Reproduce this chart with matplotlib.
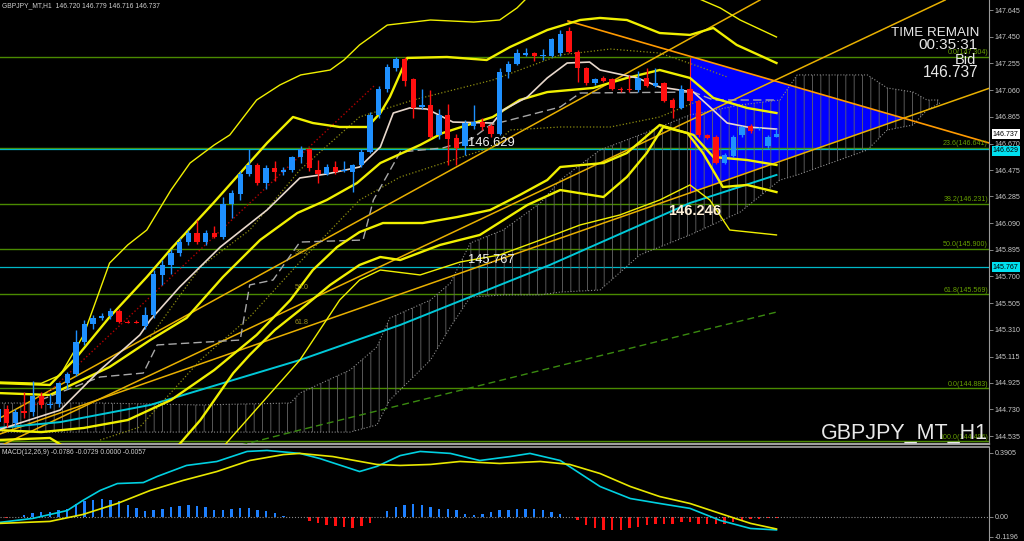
import numpy as np
import matplotlib
matplotlib.use("Agg")
import matplotlib.pyplot as plt
from matplotlib.transforms import blended_transform_factory

plt.rcParams['hatch.linewidth'] = 0.6

# ---------------- candles (H1) ----------------
opens = [144.64, 144.73, 144.63, 144.72, 144.71, 144.83, 144.76, 144.77, 144.92, 144.99,
         145.22, 145.35, 145.40, 145.41, 145.45, 145.37, 145.37, 145.34, 145.42, 145.71,
         145.78, 145.87, 145.95, 146.02, 145.95, 146.02, 145.99, 146.23, 146.30, 146.45,
         146.51, 146.38, 146.49, 146.46, 146.48, 146.57, 146.63, 146.48, 146.45, 146.50,
         146.47, 146.46, 146.51, 146.61, 146.88, 147.07, 147.22, 147.29, 147.14, 146.94,
         146.95, 146.73, 146.88, 146.71, 146.65, 146.80, 146.83, 146.80, 146.74, 147.19,
         147.25, 147.32, 147.33, 147.31, 147.31, 147.33, 147.49, 147.34, 147.22, 147.11,
         147.15, 147.14, 147.07, 147.07, 147.06, 147.15, 147.09, 147.11, 146.99, 146.93,
         147.07, 146.98, 146.73, 146.72, 146.53, 146.58, 146.73, 146.80, 146.78, 146.65, 146.720]
highs = [144.76, 144.76, 144.73, 144.86, 144.94, 144.86, 144.84, 144.93, 145.00, 145.31,
         145.38, 145.42, 145.43, 145.47, 145.46, 145.38, 145.38, 145.48, 145.75, 145.82,
         145.90, 145.98, 146.04, 146.11, 146.04, 146.07, 146.28, 146.33, 146.47, 146.63,
         146.53, 146.51, 146.54, 146.50, 146.58, 146.65, 146.64, 146.55, 146.52, 146.54,
         146.54, 146.52, 146.63, 146.90, 147.09, 147.25, 147.30, 147.30, 147.15, 147.07,
         147.06, 146.92, 146.96, 146.74, 146.84, 146.95, 146.86, 146.81, 147.22, 147.27,
         147.36, 147.37, 147.34, 147.36, 147.44, 147.50, 147.52, 147.35, 147.23, 147.15,
         147.16, 147.15, 147.08, 147.17, 147.20, 147.22, 147.22, 147.12, 147.00, 147.10,
         147.08, 146.99, 146.74, 146.73, 146.60, 146.73, 146.80, 146.81, 146.79, 146.73, 146.779]
lows = [144.60, 144.60, 144.60, 144.67, 144.68, 144.74, 144.74, 144.75, 144.88, 144.97,
        145.20, 145.32, 145.38, 145.39, 145.36, 145.36, 145.36, 145.32, 145.40, 145.64,
        145.72, 145.85, 145.93, 145.94, 145.93, 145.98, 145.97, 146.13, 146.26, 146.43,
        146.37, 146.34, 146.40, 146.44, 146.46, 146.53, 146.47, 146.38, 146.44, 146.45,
        146.46, 146.32, 146.50, 146.60, 146.86, 147.05, 147.20, 147.09, 146.86, 146.92,
        146.71, 146.70, 146.51, 146.51, 146.59, 146.78, 146.77, 146.72, 146.73, 147.15,
        147.24, 147.31, 147.27, 147.28, 147.30, 147.31, 147.33, 147.12, 147.10, 147.10,
        147.12, 147.06, 147.05, 147.05, 147.05, 147.08, 147.08, 146.97, 146.86, 146.92,
        146.97, 146.72, 146.70, 146.52, 146.52, 146.57, 146.72, 146.75, 146.77, 146.64, 146.716]
closes = [144.73, 144.63, 144.71, 144.70, 144.83, 144.76, 144.77, 144.92, 144.99, 145.22,
          145.35, 145.40, 145.41, 145.45, 145.37, 145.36, 145.36, 145.42, 145.72, 145.78,
          145.87, 145.95, 146.02, 145.95, 146.02, 145.99, 146.23, 146.31, 146.45, 146.51,
          146.38, 146.49, 146.46, 146.48, 146.57, 146.63, 146.49, 146.45, 146.50, 146.46,
          146.48, 146.51, 146.61, 146.88, 147.07, 147.23, 147.29, 147.13, 146.93, 146.95,
          146.72, 146.88, 146.70, 146.64, 146.82, 146.83, 146.79, 146.74, 147.19, 147.25,
          147.33, 147.33, 147.31, 147.32, 147.43, 147.47, 147.34, 147.22, 147.11, 147.14,
          147.13, 147.07, 147.06, 147.06, 147.15, 147.09, 147.11, 146.98, 146.93, 147.07,
          146.98, 146.73, 146.71, 146.53, 146.59, 146.72, 146.79, 146.76, 146.78, 146.72, 146.737]

# ---------------- Bollinger-type yellow bands (bar, price) ----------------
bb_up3_x = [0, 5.0, 7.2, 9.9, 12.9, 15.0, 17.2, 20.0, 22.2, 25.0, 26.8, 29.9, 32.6, 35.0, 38.4, 40.0,
            41.8, 45.0, 50.0, 55.0, 58.0, 60.0, 61.5, 69.6, 75.4, 80.0, 83.5, 85.8, 90.0]
bb_up3_y = [144.93, 144.92, 144.98, 145.273, 145.798, 145.93, 146.039, 146.331, 146.528, 146.66, 146.733,
            146.988, 147.098, 147.171, 147.207, 147.28, 147.39, 147.535, 147.572, 147.557, 147.572, 147.66,
            147.755, 147.83, 147.81, 147.755, 147.66, 147.572, 147.448]
bb_up2_x = [0, 6.0, 9.1, 12.9, 17.2, 20.2, 24.9, 28.0, 31.1, 34.1, 36.4, 39.5, 42.7, 44.2, 45.3, 47.3,
            51.9, 56.5, 59.2, 63.5, 67.3, 69.6, 72.7, 76.5, 80.0, 82.7, 85.4, 90.0]
bb_up2_y = [144.922, 144.908, 145.112, 145.404, 145.696, 145.915, 146.236, 146.455, 146.674, 146.864,
            146.82, 146.791, 146.791, 146.893, 147.01, 147.295, 147.302, 147.28, 147.375, 147.499, 147.572,
            147.587, 147.572, 147.477, 147.463, 147.514, 147.39, 147.258]
bb_up1_x = [0, 6.0, 12.9, 17.6, 21.8, 26.0, 30.3, 34.6, 38.0, 41.5, 44.2, 48.8, 51.4, 57.2, 60.3, 63.5,
            68.8, 72.7, 76.5, 80.0, 82.7, 86.6, 90.0]
bb_up1_y = [144.849, 144.835, 145.039, 145.236, 145.397, 145.696, 145.966, 146.163, 146.258, 146.382,
            146.528, 146.66, 146.747, 146.864, 146.988, 147.046, 147.076, 147.149, 147.207, 147.149,
            147.003, 146.93, 146.893]
bb_dn1_x = [0, 5.0, 9.9, 15.0, 20.0, 25.0, 29.9, 33.8, 36.4, 39.2, 41.8, 44.5, 49.1, 53.1, 56.9, 60.3,
            63.5, 65.0, 70.0, 72.7, 76.5, 80.4, 82.7, 86.6, 90.0]
bb_dn1_y = [144.579, 144.564, 144.594, 144.652, 144.798, 145.017, 145.273, 145.528, 145.747, 145.915,
            146.024, 146.09, 146.09, 146.134, 146.185, 146.294, 146.404, 146.499, 146.528, 146.601,
            146.806, 146.733, 146.572, 146.55, 146.514]
bb_dn2_x = [0, 6.0, 8.3, 14.1, 19.9, 23.4, 27.2, 29.1, 32.0, 34.9, 38.4, 41.8, 44.2, 46.5, 51.1, 55.7,
            61.2, 65.0, 70.0, 72.7, 75.0, 76.9, 79.7, 81.5, 83.8, 86.6, 90.0]
bb_dn2_y = [144.506, 144.521, 144.433, 144.36, 144.397, 144.652, 144.995, 145.127, 145.309, 145.455,
            145.638, 145.784, 145.842, 145.82, 145.93, 146.003, 146.222, 146.331, 146.28, 146.426,
            146.601, 146.791, 146.747, 146.601, 146.353, 146.368, 146.316]
bb_dn3_x = [0, 11.8, 23.4, 25.7, 30.3, 34.9, 37.2, 39.5, 41.8, 44.2, 48.8, 53.4, 58.0, 62.7, 67.3,
            71.9, 76.5, 80.0, 82.3, 84.6, 90.0]
bb_dn3_y = [144.47, 144.397, 144.36, 144.433, 144.762, 145.09, 145.309, 145.528, 145.674, 145.747,
            145.711, 145.805, 145.857, 145.966, 146.076, 146.149, 146.258, 146.368, 146.258, 146.039, 146.003]

# ---------------- other moving lines (bar, price) ----------------
beige_x = [0, 7.2, 11.8, 16.4, 17.6, 21.0, 25.7, 31.1, 34.9, 38.0, 41.8, 44.2, 45.7, 47.6, 49.6, 52.6,
           57.2, 58.4, 61.2, 63.5, 65.8, 68.4, 69.6, 73.9, 76.5, 80.4, 82.3, 84.3, 86.6, 90.0]
beige_y = [144.579, 144.725, 145.017, 145.273, 145.382, 145.623, 145.915, 146.185, 146.419, 146.448,
           146.499, 146.645, 146.893, 146.93, 146.922, 146.827, 146.82, 146.915, 147.01, 147.149, 147.258,
           147.265, 147.207, 147.149, 147.083, 147.046, 146.937, 146.82, 146.791, 146.776]
kijun_x = [4.9, 11.8, 16.8, 18.4, 28.0, 29.1, 31.8, 34.9, 42.2, 43.4, 46.5, 51.4, 54.6, 56.9, 59.2,
           65.0, 67.3, 80.4, 82.7, 90.0]
kijun_y = [144.798, 144.966, 144.995, 145.2, 145.236, 145.638, 145.674, 145.951, 145.966, 146.258,
           146.608, 146.638, 146.696, 146.806, 146.842, 146.937, 147.039, 147.046, 146.988, 146.988]
reddot_x = [3.7, 43.6]
reddot_y = [144.725, 147.098]
olive1_x = [17.6, 23.4, 29.1, 34.9, 41.8, 48.0, 57.2, 65.0, 70.8, 76.5, 81.2, 84.3]
olive1_y = [145.258, 145.769, 146.039, 146.477, 146.864, 146.988, 147.134, 147.317, 147.36, 147.331,
            147.229, 147.156]
olive2_x = [11.8, 16.4, 23.4, 29.1, 34.9, 41.8, 46.5, 57.2, 59.2, 65.0, 70.8, 76.5, 81.2]
olive2_y = [144.506, 144.601, 145.09, 145.404, 145.805, 146.258, 146.426, 146.645, 146.769, 146.791,
            146.791, 146.864, 146.988]
cyan_ma_x = [0, 7.2, 17.6, 34.9, 46.5, 63.8, 80.0, 90.0]
cyan_ma_y = [144.594, 144.637, 144.762, 145.09, 145.346, 145.784, 146.236, 146.441]
green_ma_x = [26.8, 34.9, 90.0]
green_ma_y = [144.448, 144.579, 145.44]

# ---------------- ichimoku cloud (bar, price) ----------------
cloud_x = [0, 11.8, 23.4, 33.8, 34.9, 40.7, 43.8, 45.3, 50.0, 52.3, 54.6, 58.4, 62.7, 65.0, 69.6,
           74.2, 80.0, 85.8, 90.4, 92.4, 100.5, 102.8, 105.8, 107.4, 108.9]
cloud_top = [144.776, 144.776, 144.762, 144.776, 144.849, 145.017, 145.185, 145.397, 145.528, 145.652,
             145.944, 146.039, 146.236, 146.404, 146.623, 146.733, 146.879, 146.952, 146.988, 147.171,
             147.171, 147.076, 147.046, 146.988, 146.988]
cloud_bot = [144.564, 144.564, 144.564, 144.564, 144.564, 144.564, 144.616, 144.798, 145.09, 145.331,
             145.55, 145.565, 145.565, 145.586, 145.601, 145.857, 146.003, 146.17, 146.404, 146.441,
             146.623, 146.769, 146.806, 146.915, 146.966]

# ---------------- trend lines (bar, price endpoints) ----------------
gold_lines = [((0.23, 144.667), (88.1, 147.718)),
              ((0.23, 144.462), (109.5, 147.718)),
              ((0.23, 144.550), (114.7, 147.076))]
down_line = ((65.9, 147.565), (114.6, 146.674))
triangle_start = 80

# ---------------- horizontal levels ----------------
fib_levels = [147.304, 146.641, 146.231, 145.900, 145.569, 144.883, 144.496]
fib_labels = ["0.0(147.304)", "23.6(146.641)", "38.2(146.231)", "50.0(145.900)",
              "61.8(145.569)", "0.0(144.883)", "100.0(144.496)"]
cyan_levels = [146.629, 145.767]
fib2_labels = ["38.2", "50.0", "61.8"]
fib2_prices = [145.878, 145.623, 145.367]
price_ticks = [147.645, 147.450, 147.255, 147.060, 146.865, 146.670, 146.475, 146.285, 146.090,
               145.895, 145.700, 145.505, 145.310, 145.115, 144.925, 144.730, 144.535]

# ---------------- MACD ----------------
macd_hist = [0.0, -0.004, 0.0, 0.010, 0.026, 0.030, 0.030, 0.040, 0.049, 0.079,
             0.095, 0.105, 0.109, 0.105, 0.095, 0.075, 0.055, 0.038, 0.045, 0.051,
             0.061, 0.065, 0.071, 0.065, 0.059, 0.045, 0.045, 0.051, 0.055, 0.057,
             0.045, 0.038, 0.024, 0.008, 0.002, -0.002, -0.022, -0.038, -0.051, -0.057,
             -0.063, -0.067, -0.057, -0.036, -0.003, 0.034, 0.059, 0.07, 0.08, 0.07,
             0.06, 0.05, 0.05, 0.04, 0.02, 0.01, 0.02, 0.03, 0.04, 0.04,
             0.05, 0.05, 0.05, 0.04, 0.03, 0.02, 0.0, -0.02, -0.05, -0.07,
             -0.08, -0.08, -0.08, -0.07, -0.06, -0.05, -0.04, -0.04, -0.04, -0.03,
             -0.03, -0.04, -0.04, -0.04, -0.04, -0.03, -0.02, -0.01, -0.01, -0.005, -0.0057]
macd_x = [0.2, 4.0, 8.0, 9.8, 11.8, 13.8, 16.8, 18.4, 21.8, 25.3, 28.8, 31.1, 34.9, 37.2, 41.8, 43.8,
          46.5, 48.8, 52.3, 55.7, 59.2, 61.5, 65.0, 67.3, 69.6, 73.1, 76.5, 80.0, 83.5, 87.0, 90.0]
macd_main = [-0.033, -0.009, 0.039, 0.100, 0.161, 0.203, 0.209, 0.246, 0.313, 0.337, 0.398, 0.404,
             0.386, 0.355, 0.276, 0.307, 0.373, 0.398, 0.386, 0.343, 0.367, 0.386, 0.343, 0.264,
             0.185, 0.112, 0.082, 0.052, -0.021, -0.070, -0.0786]
signal_x = [0.2, 6.0, 9.8, 13.8, 17.6, 21.4, 25.3, 29.1, 33.0, 34.9, 38.7, 43.8, 46.5, 50.0, 53.4,
            58.0, 62.7, 66.1, 69.6, 73.1, 76.5, 80.0, 83.5, 87.0, 90.0]
signal_vals = [-0.039, -0.027, 0.015, 0.082, 0.161, 0.222, 0.276, 0.343, 0.379, 0.386, 0.367, 0.319,
               0.313, 0.319, 0.337, 0.325, 0.337, 0.319, 0.264, 0.185, 0.124, 0.082, 0.021, -0.039, -0.0729]
macd_ticks = [0.3905, 0.0, -0.1196]
macd_tick_labels = ["0.3905", "0.00", "-0.1196"]

# ================= drawing =================
W, H = 1024, 541
SMALL = 'Liberation Sans'
fig = plt.figure(figsize=(W / 100, H / 100), dpi=100, facecolor='black')
ax = fig.add_axes([0, 1 - 444 / H, 989 / W, 444 / H], facecolor='black')
axm = fig.add_axes([0, 0, 989 / W, 94 / H], facecolor='black')

for a in (ax, axm):
    a.set_xlim(0.231, 114.57)
    for s in ('left', 'top'):
        a.spines[s].set_visible(False)
    a.spines['right'].set_color('#9a9a9a')
    a.spines['right'].set_linewidth(0.8)
    a.set_xticks([])
    a.yaxis.tick_right()
    a.tick_params(axis='y', colors='#9a9a9a', labelcolor='#c8c8c8', labelsize=5.1,
                  length=3, width=0.6, pad=1.2)
ax.spines['bottom'].set_color('#a0a0a0')
ax.spines['bottom'].set_linewidth(1.6)
axm.spines['top'].set_visible(True)
axm.spines['top'].set_color('#a0a0a0')
axm.spines['top'].set_linewidth(1.2)
axm.spines['bottom'].set_visible(False)

ax.set_ylim(144.477, 147.718)
ax.set_yticks(price_ticks)
ax.set_yticklabels([f"{t:.3f}" for t in price_ticks], family=SMALL)

# --- triangle (between down line and lower gold trend line) ---
def line_at(line, x):
    (x1, y1), (x2, y2) = line
    return y1 + (y2 - y1) * (x - x1) / (x2 - x1)

low_line = gold_lines[2]
(dx1, dy1), (dx2, dy2) = down_line
(lx1, ly1), (lx2, ly2) = low_line
sd = (dy2 - dy1) / (dx2 - dx1)
sl = (ly2 - ly1) / (lx2 - lx1)
xi = (ly1 - sl * lx1 - dy1 + sd * dx1) / (sd - sl)
yi = dy1 + sd * (xi - dx1)
tri_x = [triangle_start, triangle_start, xi]
tri_y = [line_at(down_line, triangle_start), line_at(low_line, triangle_start), yi]
ax.fill(tri_x, tri_y, color='#0000ff', zorder=1, lw=0)
ax.vlines(triangle_start, tri_y[1], tri_y[0], color='#ff2020', lw=0.8, zorder=1.5)

# --- horizontal levels ---
for lv in fib_levels:
    ax.axhline(lv, color='#4a8a00', lw=1.0, zorder=2)
for lv in cyan_levels:
    ax.axhline(lv, color='#00b8c8', lw=0.9, zorder=2)
tr = blended_transform_factory(ax.transAxes, ax.transData)
for lv, lab in zip(fib_levels, fib_labels):
    ax.text(0.999, lv + 0.006, lab, transform=tr, ha='right', va='bottom', family=SMALL,
            fontsize=5.1, color='#66a000', zorder=6)
for lv, lab in zip(fib2_prices, fib2_labels):
    ax.text(34.3, lv, lab, ha='left', va='center', fontsize=5.1, family=SMALL,
            color='#9a9020', zorder=6)

# --- ichimoku cloud ---
ax.fill_between(cloud_x, cloud_top, cloud_bot, facecolor='none', edgecolor='#666666',
                hatch='||', linewidth=0, zorder=3)
ax.plot(cloud_x, cloud_top, ls=':', color='#8c8c8c', lw=0.8, zorder=3)
ax.plot(cloud_x, cloud_bot, ls=':', color='#8c8c8c', lw=0.8, zorder=3)

# --- trend lines ---
for (p1, p2) in gold_lines:
    ax.plot([p1[0], p2[0]], [p1[1], p2[1]], color='#e8b000', lw=1.1, zorder=4)
ax.plot([down_line[0][0], down_line[1][0]], [down_line[0][1], down_line[1][1]],
        color='#ff9a00', lw=1.2, zorder=4)

# --- moving lines ---
ax.plot(green_ma_x, green_ma_y, color='#3a8a10', lw=1.0, ls=(0, (5, 3)), zorder=4)
ax.plot(cyan_ma_x, cyan_ma_y, color='#00c8d8', lw=1.4, zorder=4)
ax.plot(reddot_x, reddot_y, color='#b00000', lw=1.0, ls=':', zorder=4)
ax.plot(olive1_x, olive1_y, color='#8c8c10', lw=0.9, ls=':', zorder=4)
ax.plot(olive2_x, olive2_y, color='#8c8c10', lw=0.9, ls=':', zorder=4)
ax.plot(kijun_x, kijun_y, color='#a8a8a8', lw=1.0, ls=(0, (6, 3)), zorder=4)
for bx, by, lw in [(bb_up3_x, bb_up3_y, 1.0), (bb_up2_x, bb_up2_y, 1.7), (bb_up1_x, bb_up1_y, 1.7),
                   (bb_dn1_x, bb_dn1_y, 1.7), (bb_dn2_x, bb_dn2_y, 1.7), (bb_dn3_x, bb_dn3_y, 1.0)]:
    ax.plot(bx, by, color='#f0f000', lw=lw, zorder=4.5, solid_joinstyle='round')
ax.plot(beige_x, beige_y, color='#e8d8cc', lw=1.2, zorder=4.6)

# --- candles ---
idx = np.arange(len(opens))
o = np.array(opens); c = np.array(closes); h = np.array(highs); l = np.array(lows)
col = np.where(c >= o, '#1e90ff', '#ff1010')
ax.vlines(idx, l, h, colors=col, lw=1.0, zorder=5)
body = np.where(np.abs(c - o) < 0.006, 0.006, c - o)
ax.bar(idx, body, bottom=o, width=0.62, color=col, lw=0, zorder=5.5)

# --- axis value boxes ---
ax.text(1.004, 146.737, "146.737", transform=tr, ha='left', va='center', fontsize=5.1, family=SMALL,
        color='black', bbox=dict(facecolor='white', edgecolor='none', pad=1.0), clip_on=False, zorder=7)
for lv in cyan_levels:
    ax.text(1.004, lv - (0.012 if lv > 146 else 0), f"{lv:.3f}", transform=tr, ha='left', va='center',
            fontsize=5.1, family=SMALL, color='black',
            bbox=dict(facecolor='#00e0f0', edgecolor='none', pad=1.0), clip_on=False, zorder=7)

# --- price text labels on chart ---
ax.text(54.3, 146.675, "146.629", fontsize=9.3, color='#f0f0f0', family='Liberation Sans',
        ha='left', va='center', zorder=7)
ax.text(54.3, 145.82, "145.767", fontsize=9.3, color='#f0f0f0', family='Liberation Sans',
        ha='left', va='center', zorder=7)
ax.text(77.5, 146.18, "146.246", fontsize=10.5, color='#fff0d8', family='Liberation Sans',
        fontweight='bold', ha='left', va='center', zorder=7)
ax.text(54.0, 144.43, "144.400", fontsize=9.3, color='#f0f0f0', family='Liberation Sans',
        ha='left', va='center', zorder=7, clip_on=True)

# --- MACD panel ---
axm.set_ylim(-0.146, 0.425)
hcol = np.where(np.array(macd_hist) >= 0, '#1e80ff', '#ff1010')
axm.bar(np.arange(len(macd_hist)), macd_hist, width=0.28, color=hcol, lw=0)
axm.axhline(0, color='#8a8a8a', lw=0.8, ls=':')
axm.plot(macd_x, macd_main, color='#00d0e0', lw=1.2)
axm.plot(signal_x, signal_vals, color='#e8e800', lw=1.2)
axm.set_yticks(macd_ticks)
axm.set_yticklabels(macd_tick_labels, family=SMALL)

# --- texts in figure ---
fig.text(2 / W, 1 - 5.5 / H, "GBPJPY_MT,H1  146.720 146.779 146.716 146.737", fontsize=4.9,
         family=SMALL, color='#d0d0d0', ha='left', va='center')
fig.text(2 / W, 1 - 452 / H, "MACD(12,26,9) -0.0786 -0.0729 0.0000 -0.0057", fontsize=4.9,
         family=SMALL, color='#d0d0d0', ha='left', va='center')
big = dict(family='Liberation Sans', color='#e8e8e8', ha='right', va='center')
fig.text(979 / W, 1 - 33 / H, "TIME REMAIN", fontsize=9.6, **big)
fig.text(978 / W, 1 - 45 / H, "00:35:31", fontsize=11, **big)
fig.text(976 / W, 1 - 60 / H, "Bid", fontsize=10.5, **big)
fig.text(978 / W, 1 - 73 / H, "146.737", fontsize=11.2, **big)
fig.text(988 / W, 1 - 433 / H, "GBPJPY_MT_H1", fontsize=15.5, **big)

fig.savefig("out.png", dpi=100, facecolor='black')
